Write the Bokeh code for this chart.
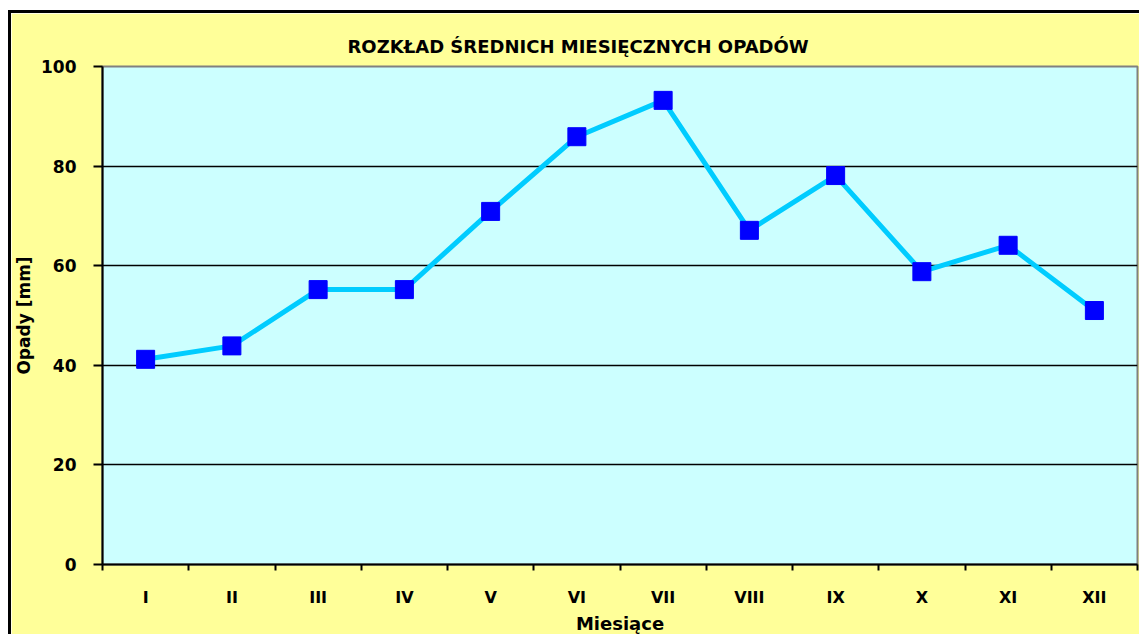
from bokeh.plotting import figure
from bokeh.models import FixedTicker, Range1d, Title, ColumnDataSource
from bokeh.embed import file_html
from bokeh.resources import INLINE

months = ["I", "II", "III", "IV", "V", "VI", "VII", "VIII", "IX", "X", "XI", "XII"]
rain = [41.2, 43.9, 55.2, 55.2, 70.9, 85.9, 93.2, 67.1, 78.1, 58.8, 64.1, 51.0]
y_ticks = [0, 20, 40, 60, 80, 100]

xs = list(range(1, len(months) + 1))
src = ColumnDataSource(dict(x=xs, y=rain, m=months))

FONT = "DejaVu Sans"

p = figure(width=1131, height=624, output_backend="svg", toolbar_location=None,
           x_range=Range1d(0.5, len(months) + 0.5), y_range=Range1d(0, 100),
           min_border_left=91, min_border_right=5, min_border_top=53, min_border_bottom=73)
p.styles = {"border-left": "3px solid black", "border-top": "3px solid black",
            "margin-top": "10px", "margin-left": "8px"}
p.border_fill_color = "#FFFF99"
p.background_fill_color = "#CCFFFF"
p.outline_line_color = "#808080"
p.outline_line_width = 2

t = Title(text="ROZKŁAD ŚREDNICH MIESIĘCZNYCH OPADÓW", align="left", offset=245,
          text_font=FONT, text_font_size="18px", text_font_style="bold", text_color="black",
          standoff=19)
p.add_layout(t, "above")

p.line("x", "y", source=src, line_color="#00CCFF", line_width=5)
p.scatter("x", "y", source=src, marker="square", size=18, fill_color="#0000FF", line_color="#0000FF")

# axes
p.xaxis.ticker = FixedTicker(ticks=xs, minor_ticks=[i + 0.5 for i in range(len(months) + 1)])
p.xaxis.major_label_overrides = {i: m for i, m in zip(xs, months)}
p.xaxis.major_tick_line_color = None
p.xaxis.minor_tick_out = 6
p.xaxis.minor_tick_in = 0
p.xaxis.minor_tick_line_color = "black"
p.xaxis.minor_tick_line_width = 2
p.xaxis.major_label_standoff = 17
p.xaxis.axis_label = "Miesiące"
p.xaxis.axis_label_standoff = 3

p.yaxis.ticker = FixedTicker(ticks=y_ticks)
p.yaxis.major_tick_out = 9
p.yaxis.major_tick_in = 0
p.yaxis.minor_tick_line_color = None
p.yaxis.major_label_standoff = 17
p.yaxis.axis_label = "Opady [mm]"
p.yaxis.axis_label_standoff = 4

for ax in (p.xaxis, p.yaxis):
    ax.axis_line_color = "black"
    ax.axis_line_width = 2
    ax.major_tick_line_width = 2
    ax.major_label_text_font = FONT
    ax.major_label_text_font_style = "bold"
    ax.major_label_text_color = "black"
    ax.axis_label_text_font = FONT
    ax.axis_label_text_font_style = "bold"
    ax.axis_label_text_color = "black"

p.yaxis.axis_label_text_font_size = "17px"
p.xaxis.axis_label_text_font_size = "18px"
p.yaxis.major_label_text_font_size = "17px"
p.xaxis.major_label_text_font_size = "16px"

p.xgrid.grid_line_color = None
p.ygrid.ticker = FixedTicker(ticks=[20, 40, 60, 80])
p.ygrid.grid_line_color = "black"
p.ygrid.grid_line_width = 1.5

open("out.html", "w").write(file_html(p, INLINE))
